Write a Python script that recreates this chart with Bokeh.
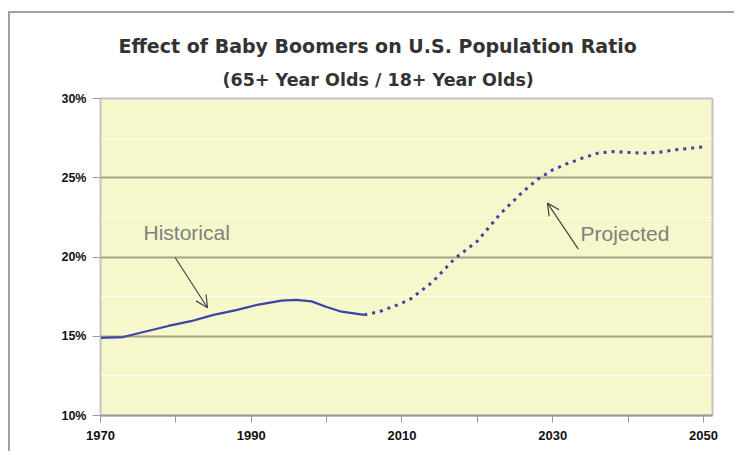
from bokeh.plotting import figure
from bokeh.models import (Range1d, FixedTicker, Label, Arrow, OpenHead, Title,
                          CustomJSTickFormatter)
from bokeh.embed import file_html
from bokeh.resources import INLINE

# ---- data ----
hist_years = [1970, 1973, 1976, 1979, 1982, 1985, 1988, 1991, 1994, 1996, 1998, 2000, 2002, 2005]
hist_vals = [14.9, 14.95, 15.3, 15.65, 15.95, 16.35, 16.65, 17.0, 17.25, 17.3, 17.2, 16.85, 16.55, 16.35]

proj_years = [2005, 2007, 2009, 2011, 2014, 2017, 2020, 2023, 2026, 2028, 2030, 2032, 2034,
              2036, 2038, 2040, 2042, 2044, 2046, 2048, 2050]
proj_vals = [16.35, 16.55, 16.9, 17.3, 18.4, 19.9, 21.0, 22.7, 24.1, 24.9, 25.5, 25.9, 26.25,
             26.55, 26.65, 26.6, 26.55, 26.6, 26.75, 26.85, 26.95]

x_label_ticks = [1970, 1990, 2010, 2030, 2050]
x_minor_ticks = [1980, 2000, 2020, 2040]
y_ticks = [10, 15, 20, 25, 30]
y_minor = [12.5, 17.5, 22.5, 27.5]

title_main = "Effect of Baby Boomers on U.S. Population Ratio"
title_sub = "(65+ Year Olds / 18+ Year Olds)"

p = figure(width=726, height=440, output_backend="svg", toolbar_location=None,
           x_range=Range1d(1970, 2051.2), y_range=Range1d(10, 30),
           min_border_left=90, min_border_right=24, min_border_top=85,
           min_border_bottom=38, title=None,
           styles={"margin-left": "8px", "margin-top": "11px",
                   "border-left": "2px solid #a0a0a0", "border-top": "2px solid #a0a0a0"})

p.background_fill_color = "#f6f7cb"
p.border_fill_color = "white"
p.outline_line_color = "#c4c4c4"
p.outline_line_width = 2

# titles
title_font = "DejaVu Sans"
sub = Title(text=title_sub, align="left", offset=122, standoff=18, text_font=title_font,
            text_font_size="17.5px", text_font_style="bold", text_color="#333333")
main = Title(text=title_main, align="left", offset=18, standoff=4, text_font=title_font,
             text_font_size="19px", text_font_style="bold", text_color="#333333")
p.add_layout(sub, "above")
p.add_layout(main, "above")

# axes
p.xaxis.ticker = FixedTicker(ticks=x_label_ticks, minor_ticks=x_minor_ticks)
p.xaxis.major_tick_out = 7
p.xaxis.major_tick_in = 0
p.xaxis.minor_tick_out = 7
p.xaxis.minor_tick_in = 0
p.xaxis.axis_line_color = "#9a9a9a"
p.xaxis.axis_line_width = 2
p.xaxis.major_tick_line_color = "#9a9a9a"
p.xaxis.minor_tick_line_color = "#9a9a9a"
p.xaxis.major_label_text_font = "Liberation Sans"
p.xaxis.major_label_text_font_style = "bold"
p.xaxis.major_label_text_font_size = "13px"
p.xaxis.major_label_text_color = "#111111"
p.xaxis.major_label_standoff = 8

p.yaxis.ticker = FixedTicker(ticks=y_ticks, minor_ticks=y_minor)
p.yaxis.formatter = CustomJSTickFormatter(code="return tick.toFixed(0) + '%';")
p.yaxis.major_tick_out = 8
p.yaxis.major_tick_in = 0
p.yaxis.minor_tick_out = 0
p.yaxis.minor_tick_in = 0
p.yaxis.axis_line_color = "#c4c4c4"
p.yaxis.axis_line_width = 1
p.yaxis.major_tick_line_color = "#9a9a9a"
p.yaxis.major_label_text_font = "Liberation Sans"
p.yaxis.major_label_text_font_style = "bold"
p.yaxis.major_label_text_font_size = "12.5px"
p.yaxis.major_label_text_color = "#111111"
p.yaxis.major_label_standoff = 6

p.xgrid.grid_line_color = None
p.ygrid.grid_line_color = "#a4a488"
p.ygrid.grid_line_width = 2
p.ygrid.minor_grid_line_color = "#ffffff"
p.ygrid.minor_grid_line_width = 1
p.ygrid.minor_grid_line_alpha = 0.8

# lines
line_color = "#3d44a6"
p.line(hist_years, hist_vals, line_color=line_color, line_width=2.2)
p.line(proj_years, proj_vals, line_color=line_color, line_width=3, line_dash="3 5")

# annotations
p.add_layout(Label(x=1975.7, y=21.55, text="Historical", text_font="Liberation Sans",
                   text_font_size="21px", text_color="#808080", text_baseline="middle"))
p.add_layout(Label(x=2033.7, y=21.5, text="Projected", text_font="Liberation Sans",
                   text_font_size="21px", text_color="#808080", text_baseline="middle"))
p.add_layout(Arrow(end=OpenHead(size=12, line_color="#444444", line_width=1.2),
                   x_start=1979.9, y_start=19.97, x_end=1984.2, y_end=16.8,
                   line_color="#444444", line_width=1.2))
p.add_layout(Arrow(end=OpenHead(size=12, line_color="#444444", line_width=1.2),
                   x_start=2033.4, y_start=20.5, x_end=2029.3, y_end=23.4,
                   line_color="#444444", line_width=1.2))

open("out.html", "w").write(file_html(p, INLINE))
